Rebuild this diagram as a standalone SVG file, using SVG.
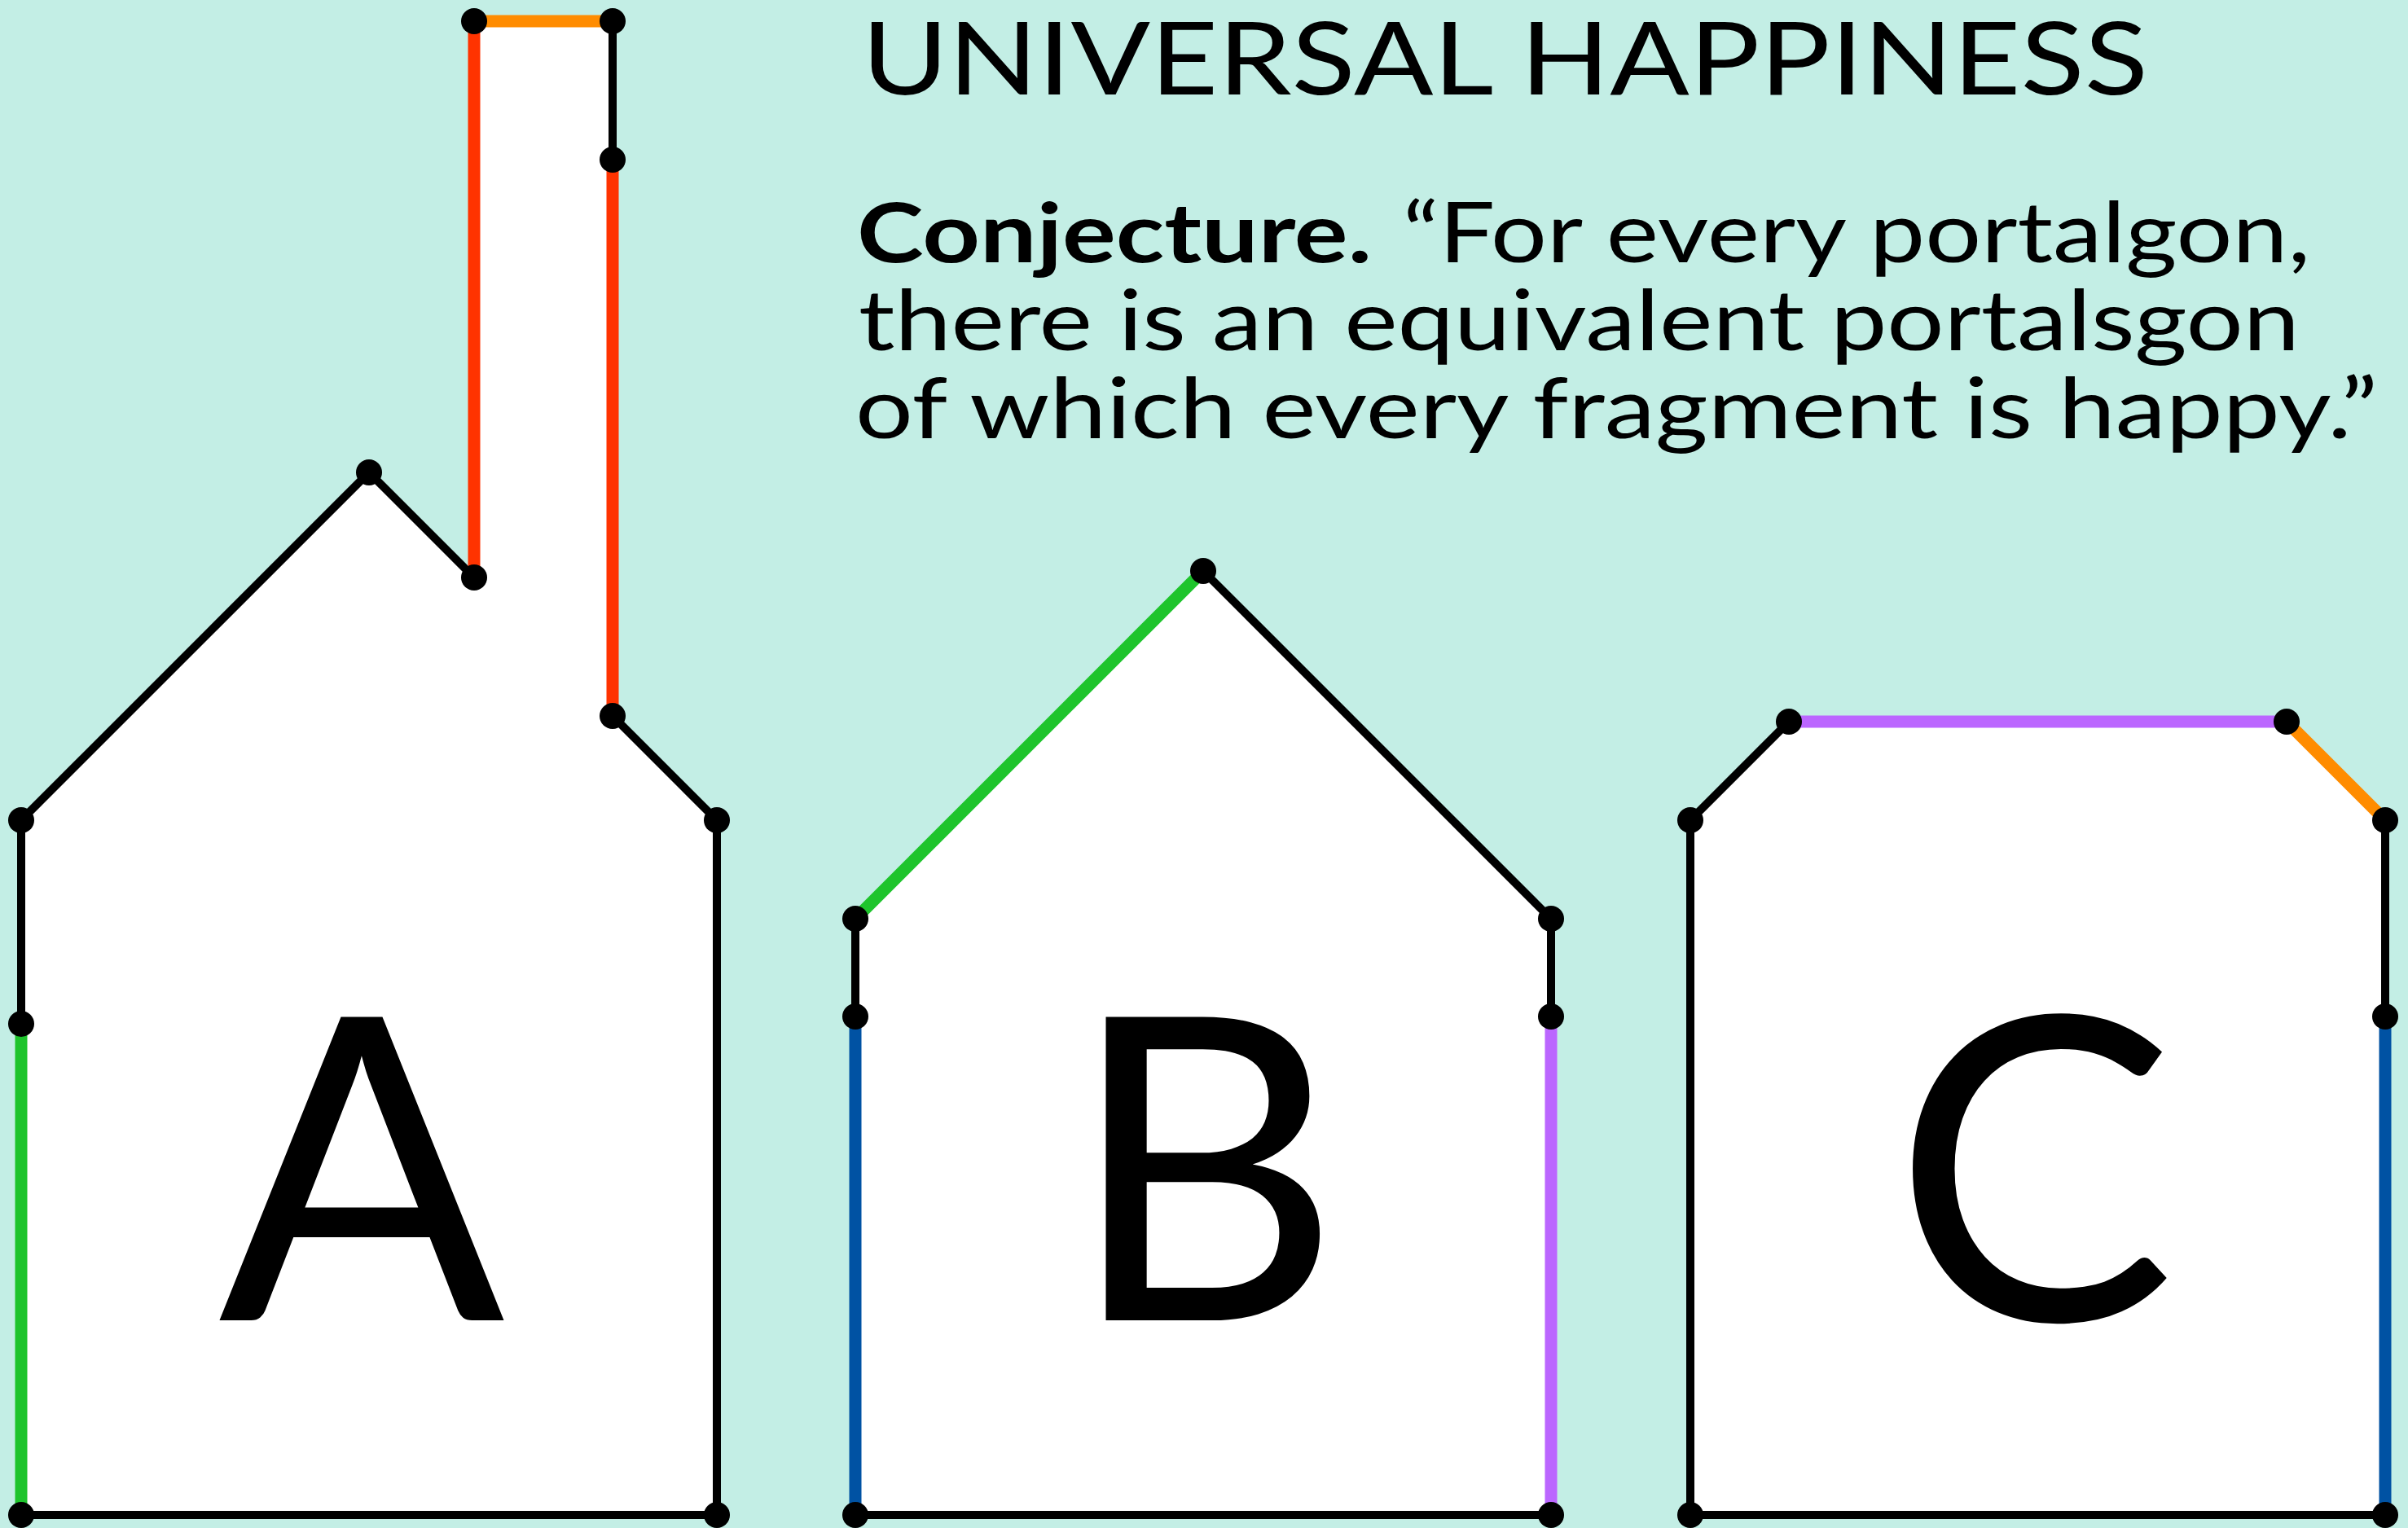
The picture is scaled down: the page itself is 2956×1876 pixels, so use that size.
<svg xmlns="http://www.w3.org/2000/svg" width="2956" height="1876" viewBox="0 0 2956 1876">
  <style>
    .shape { fill: #ffffff; stroke: none; }
    .e { stroke-width: 10; stroke-linecap: butt; fill: none; }
    .k { stroke: #000000; }
    .c { stroke-width: 15; }
    .red { stroke: #ff3300; }
    .orange { stroke: #ff8c00; }
    .green { stroke: #1ec42c; }
    .blue { stroke: #0052a3; }
    .purple { stroke: #bb66ff; }
    .dot { fill: #000000; }
    .big { font-family: Lato, "Liberation Sans", sans-serif; font-size: 520px; fill: #000; text-anchor: middle; }
    .title { font-family: Lato, "Liberation Sans", sans-serif; font-size: 125px; fill: #000; }
    .body { font-family: Lato, "Liberation Sans", sans-serif; font-size: 102px; fill: #000; }
    .bold { font-weight: bold; }
  </style>
  <rect width="2956" height="1876" fill="#c3eee5"/>

  <g id="title-text">
    <text class="title" x="1058" y="116" textLength="1579" lengthAdjust="spacingAndGlyphs">UNIVERSAL HAPPINESS</text>
    <text class="body bold" x="1052" y="322" textLength="632" lengthAdjust="spacingAndGlyphs">Conjecture.</text>
    <text class="body" x="1722" y="322" textLength="1114" lengthAdjust="spacingAndGlyphs">“For every portalgon,</text>
    <text class="body" x="1054" y="430" textLength="1769" lengthAdjust="spacingAndGlyphs">there is an equivalent portalsgon</text>
    <text class="body" x="1050" y="538" textLength="1869" lengthAdjust="spacingAndGlyphs">of which every fragment is happy.”</text>
  </g>

  <g id="shape-A">
    <polygon class="shape" points="26,1007 453,580 582,709 582,26 752,26 752,879 880,1007 880,1860 26,1860"/>
    <text class="big" x="444" y="1621">A</text>
  </g>
  <g id="shape-B">
    <polygon class="shape" points="1050,1128 1477,701 1904,1128 1904,1860 1050,1860"/>
    <text class="big" x="1478" y="1621">B</text>
  </g>
  <g id="shape-C">
    <polygon class="shape" points="2075,1007 2196,886 2807,886 2928,1007 2928,1860 2075,1860"/>
    <text class="big" x="2497" y="1621">C</text>
  </g>

  <g id="connectors">
    <!-- A -->
    <line class="e k" x1="26" y1="1007" x2="453" y2="580"/>
    <line class="e k" x1="453" y1="580" x2="582" y2="709"/>
    <line class="e c red" x1="582" y1="709" x2="582" y2="26"/>
    <line class="e c orange" x1="582" y1="26" x2="752" y2="26"/>
    <line class="e k" x1="752" y1="26" x2="752" y2="196"/>
    <line class="e c red" x1="752" y1="196" x2="752" y2="879"/>
    <line class="e k" x1="752" y1="879" x2="880" y2="1007"/>
    <line class="e k" x1="880" y1="1007" x2="880" y2="1860"/>
    <line class="e k" x1="880" y1="1860" x2="26" y2="1860"/>
    <line class="e c green" x1="26" y1="1860" x2="26" y2="1257"/>
    <line class="e k" x1="26" y1="1257" x2="26" y2="1007"/>
    <!-- B -->
    <line class="e c green" x1="1050" y1="1128" x2="1477" y2="701"/>
    <line class="e k" x1="1477" y1="701" x2="1904" y2="1128"/>
    <line class="e k" x1="1904" y1="1128" x2="1904" y2="1248"/>
    <line class="e c purple" x1="1904" y1="1248" x2="1904" y2="1860"/>
    <line class="e k" x1="1904" y1="1860" x2="1050" y2="1860"/>
    <line class="e c blue" x1="1050" y1="1860" x2="1050" y2="1248"/>
    <line class="e k" x1="1050" y1="1248" x2="1050" y2="1128"/>
    <!-- C -->
    <line class="e k" x1="2075" y1="1007" x2="2196" y2="886"/>
    <line class="e c purple" x1="2196" y1="886" x2="2807" y2="886"/>
    <line class="e c orange" x1="2807" y1="886" x2="2928" y2="1007"/>
    <line class="e k" x1="2928" y1="1007" x2="2928" y2="1248"/>
    <line class="e c blue" x1="2928" y1="1248" x2="2928" y2="1860"/>
    <line class="e k" x1="2928" y1="1860" x2="2075" y2="1860"/>
    <line class="e k" x1="2075" y1="1860" x2="2075" y2="1007"/>
  </g>

  <g id="vertices">
    <circle class="dot" cx="26" cy="1007" r="16"/>
    <circle class="dot" cx="453" cy="580" r="16"/>
    <circle class="dot" cx="582" cy="709" r="16"/>
    <circle class="dot" cx="582" cy="26" r="16"/>
    <circle class="dot" cx="752" cy="26" r="16"/>
    <circle class="dot" cx="752" cy="196" r="16"/>
    <circle class="dot" cx="752" cy="879" r="16"/>
    <circle class="dot" cx="880" cy="1007" r="16"/>
    <circle class="dot" cx="880" cy="1860" r="16"/>
    <circle class="dot" cx="26" cy="1860" r="16"/>
    <circle class="dot" cx="26" cy="1257" r="16"/>

    <circle class="dot" cx="1050" cy="1128" r="16"/>
    <circle class="dot" cx="1477" cy="701" r="16"/>
    <circle class="dot" cx="1904" cy="1128" r="16"/>
    <circle class="dot" cx="1904" cy="1248" r="16"/>
    <circle class="dot" cx="1904" cy="1860" r="16"/>
    <circle class="dot" cx="1050" cy="1860" r="16"/>
    <circle class="dot" cx="1050" cy="1248" r="16"/>

    <circle class="dot" cx="2075" cy="1007" r="16"/>
    <circle class="dot" cx="2196" cy="886" r="16"/>
    <circle class="dot" cx="2807" cy="886" r="16"/>
    <circle class="dot" cx="2928" cy="1007" r="16"/>
    <circle class="dot" cx="2928" cy="1248" r="16"/>
    <circle class="dot" cx="2928" cy="1860" r="16"/>
    <circle class="dot" cx="2075" cy="1860" r="16"/>
  </g>
</svg>
